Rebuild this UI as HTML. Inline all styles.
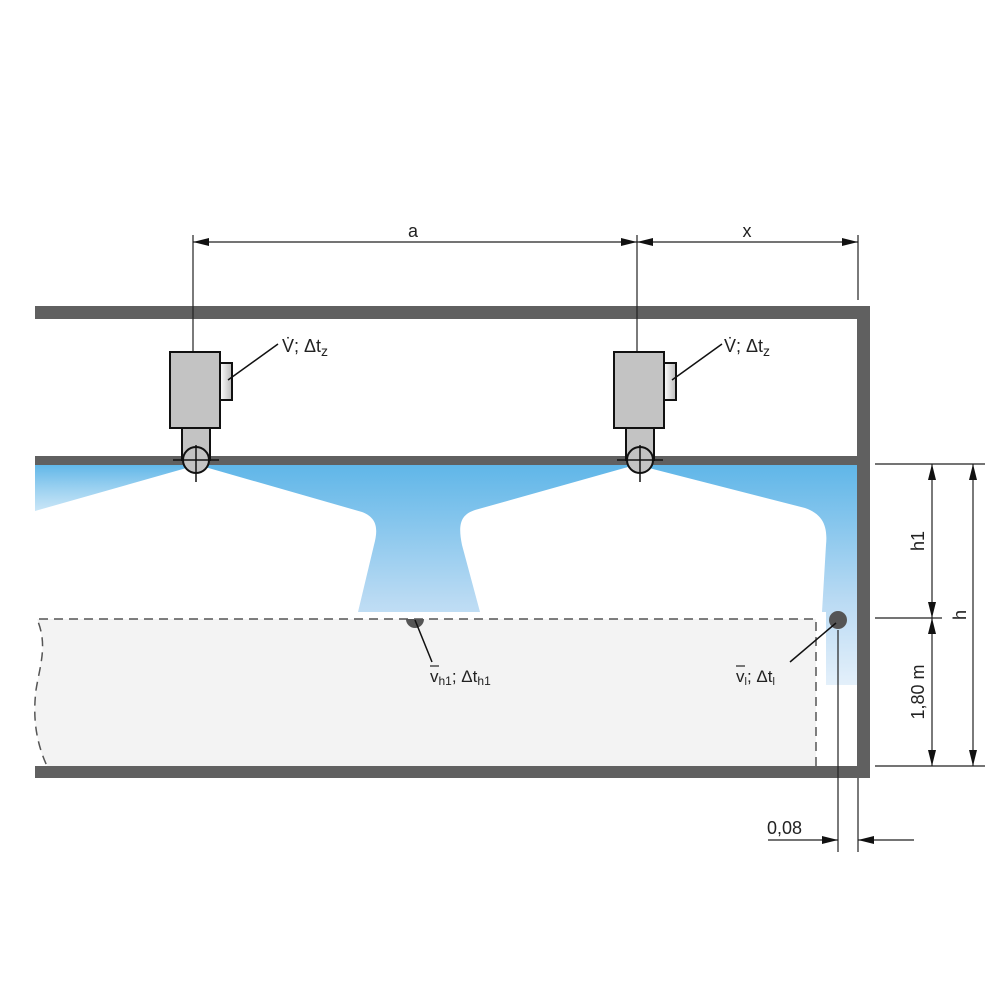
<!DOCTYPE html>
<html><head><style>body{margin:0;background:#fff}svg{display:block}text{font-family:"Liberation Sans",sans-serif;fill:#222}</style></head>
<body>
<svg width="1000" height="1000" viewBox="0 0 1000 1000">
<defs>
<linearGradient id="bg" x1="0" y1="464" x2="0" y2="690" gradientUnits="userSpaceOnUse">
<stop offset="0" stop-color="#5fb6e8"/><stop offset="0.6" stop-color="#b9daf3"/><stop offset="1" stop-color="#e6f1fb"/></linearGradient>
<linearGradient id="lw" x1="0" y1="464" x2="0" y2="512" gradientUnits="userSpaceOnUse">
<stop offset="0" stop-color="#fff" stop-opacity="0"/><stop offset="1" stop-color="#fff" stop-opacity="0.6"/></linearGradient>
<linearGradient id="sb" x1="0" y1="0" x2="1" y2="0"><stop offset="0" stop-color="#fff"/><stop offset="1" stop-color="#bbb"/></linearGradient>
<marker id="ar" markerWidth="16" markerHeight="8" refX="16" refY="4" orient="auto-start-reverse" markerUnits="userSpaceOnUse"><path d="M0,0 L16,4 L0,8 Z" fill="#111"/></marker>
</defs>
<rect x="35" y="464" width="823" height="221" fill="url(#bg)"/>
<rect x="35" y="464" width="160" height="50" fill="url(#lw)"/>
<path d="M35,511 L190,467 L205,467 L362,512 C378,518 378,530 374,545 L358,612 L35,612 Z" fill="#fff"/>
<path d="M480,612 L462,545 C458,525 460,515 475,510 L628,467 L645,467 L805,508 C822,514 828,525 826,545 L822,612 L826,690 L480,690 Z" fill="#fff"/>
<rect x="35" y="612" width="791" height="90" fill="#fff"/>
<rect x="820" y="685" width="40" height="20" fill="#fff"/>
<path d="M37,619 L816,619 L816,766 L47,766 C35,740 33,715 36,690 C40,665 48,645 37,619 Z" fill="#f3f3f3"/>
<path d="M816,766 L816,619 L37,619 C48,645 40,665 36,690 C33,715 35,740 47,766" fill="none" stroke="#555" stroke-width="1.5" stroke-dasharray="9,6"/>
<rect x="35" y="306" width="835" height="13" fill="#606060"/>
<rect x="857" y="306" width="13" height="472" fill="#606060"/>
<rect x="35" y="456" width="823" height="9" fill="#606060"/>
<rect x="35" y="766" width="835" height="12" fill="#606060"/>
<g stroke="#222" stroke-width="1.2">
<line x1="193" y1="235" x2="193" y2="352"/>
<line x1="637" y1="235" x2="637" y2="352"/>
<line x1="858" y1="235" x2="858" y2="300"/>
<line x1="193" y1="242" x2="637" y2="242" marker-end="url(#ar)" marker-start="url(#ar)"/>
<line x1="637" y1="242" x2="858" y2="242" marker-end="url(#ar)" marker-start="url(#ar)"/>
</g>
<text x="413" y="237" font-size="18" text-anchor="middle">a</text>
<text x="747" y="237" font-size="18" text-anchor="middle">x</text>
<g stroke="#111" stroke-width="2">
<rect x="220" y="363" width="12" height="37" fill="url(#sb)"/>
<rect x="170" y="352" width="50" height="76" fill="#c3c3c3"/>
<rect x="182" y="428" width="28" height="32" fill="#c3c3c3"/>
<circle cx="196" cy="460" r="13" fill="#c3c3c3"/>
<rect x="664" y="363" width="12" height="37" fill="url(#sb)"/>
<rect x="614" y="352" width="50" height="76" fill="#c3c3c3"/>
<rect x="626" y="428" width="28" height="32" fill="#c3c3c3"/>
<circle cx="640" cy="460" r="13" fill="#c3c3c3"/>
</g>
<g stroke="#111" stroke-width="1.5">
<line x1="173" y1="460" x2="219" y2="460"/><line x1="196" y1="445" x2="196" y2="482"/>
<line x1="617" y1="460" x2="663" y2="460"/><line x1="640" y1="445" x2="640" y2="482"/>
<line x1="228" y1="380" x2="278" y2="344"/>
<line x1="672" y1="380" x2="722" y2="344"/>
</g>
<text x="282" y="352" font-size="18">V̇; Δt<tspan font-size="14" dy="4">z</tspan></text>
<text x="724" y="352" font-size="18">V̇; Δt<tspan font-size="14" dy="4">z</tspan></text>
<path d="M406,619 A9,9 0 0 0 424,619 Z" fill="#555"/>
<line x1="415" y1="620" x2="432" y2="662" stroke="#111" stroke-width="1.5"/>
<text x="430" y="682" font-size="17">v<tspan font-size="12" dy="3">h1</tspan><tspan dy="-3">; Δt</tspan><tspan font-size="12" dy="3">h1</tspan></text>
<line x1="430" y1="666" x2="439" y2="666" stroke="#222" stroke-width="1.2"/>
<circle cx="838" cy="620" r="9" fill="#555"/>
<line x1="836" y1="623" x2="790" y2="662" stroke="#111" stroke-width="1.5"/>
<text x="736" y="682" font-size="17">v<tspan font-size="11" dy="3">l</tspan><tspan dy="-3">; Δt</tspan><tspan font-size="11" dy="3">l</tspan></text>
<line x1="736" y1="666" x2="745" y2="666" stroke="#222" stroke-width="1.2"/>
<g stroke="#222" stroke-width="1.2">
<line x1="875" y1="464" x2="985" y2="464"/>
<line x1="875" y1="618" x2="942" y2="618"/>
<line x1="875" y1="766" x2="985" y2="766"/>
<line x1="932" y1="464" x2="932" y2="618" marker-end="url(#ar)" marker-start="url(#ar)"/>
<line x1="932" y1="618" x2="932" y2="766" marker-end="url(#ar)" marker-start="url(#ar)"/>
<line x1="973" y1="464" x2="973" y2="766" marker-end="url(#ar)" marker-start="url(#ar)"/>
<line x1="838" y1="630" x2="838" y2="852"/>
<line x1="858" y1="778" x2="858" y2="852"/>
<line x1="768" y1="840" x2="838" y2="840" marker-end="url(#ar)"/>
<line x1="914" y1="840" x2="858" y2="840" marker-end="url(#ar)"/>
</g>
<text transform="translate(924,541) rotate(-90)" font-size="18" text-anchor="middle">h1</text>
<text transform="translate(924,692) rotate(-90)" font-size="18" text-anchor="middle">1,80 m</text>
<text transform="translate(966,615) rotate(-90)" font-size="18" text-anchor="middle">h</text>
<text x="767" y="834" font-size="18">0,08</text>
</svg>
</body></html>
